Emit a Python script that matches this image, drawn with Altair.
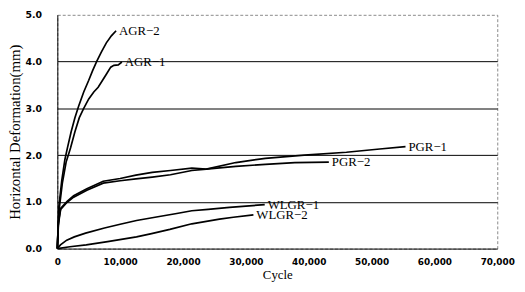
import altair as alt
import pandas as pd

# ---- data ----
agr2_x = [0, 100, 250, 700, 1200, 1600, 2200, 2800, 3400, 4200, 5000, 5600, 6250, 7000, 7800, 8600, 9350]
agr2_y = [0, 0.35, 0.9, 1.45, 1.9, 2.15, 2.5, 2.8, 3.05, 3.35, 3.6, 3.8, 4.0, 4.2, 4.4, 4.55, 4.66]

agr1_x = [0, 100, 300, 800, 1400, 2100, 2800, 3500, 4200, 5000, 5800, 6500, 7200, 7800, 8500, 9000, 9700, 10270]
agr1_y = [0, 0.3, 0.85, 1.4, 1.85, 2.15, 2.5, 2.8, 3.0, 3.2, 3.35, 3.45, 3.6, 3.73, 3.88, 3.92, 3.93, 3.99]

pgr1_x = [0, 150, 530, 1560, 2600, 4700, 7300, 10000, 12500, 15100, 18000, 21400, 23700, 28400, 33100, 39300, 46000, 51300, 55400]
pgr1_y = [0, 0.5, 0.84, 0.99, 1.1, 1.25, 1.4, 1.45, 1.49, 1.53, 1.58, 1.67, 1.7, 1.84, 1.93, 2.0, 2.06, 2.13, 2.18]

pgr2_x = [0, 150, 530, 1560, 2600, 4700, 7300, 10000, 12500, 15100, 18000, 21400, 23700, 28400, 33100, 37800, 43200]
pgr2_y = [0, 0.55, 0.86, 1.01, 1.13, 1.28, 1.44, 1.5, 1.57, 1.63, 1.67, 1.72, 1.7, 1.76, 1.8, 1.84, 1.85]

wlgr1_x = [0, 500, 1500, 2700, 4500, 7500, 10000, 12600, 16000, 19000, 21400, 24000, 27400, 30000, 33000]
wlgr1_y = [0, 0.08, 0.18, 0.25, 0.33, 0.44, 0.52, 0.6, 0.68, 0.75, 0.81, 0.84, 0.88, 0.91, 0.94]

wlgr2_x = [0, 2000, 4600, 8000, 12600, 15000, 17900, 21400, 25800, 28000, 31200]
wlgr2_y = [0, 0.04, 0.08, 0.15, 0.25, 0.32, 0.41, 0.53, 0.63, 0.67, 0.72]

series_names = ["AGR−2", "AGR−1", "PGR−1", "PGR−2", "WLGR−1", "WLGR−2"]
series_x = [agr2_x, agr1_x, pgr1_x, pgr2_x, wlgr1_x, wlgr2_x]
series_y = [agr2_y, agr1_y, pgr1_y, pgr2_y, wlgr1_y, wlgr2_y]

x_ticks = [0, 10000, 20000, 30000, 40000, 50000, 60000, 70000]
y_ticks = [0, 1, 2, 3, 4, 5]

rows = []
for name, xs, ys in zip(series_names, series_x, series_y):
    for i, (xv, yv) in enumerate(zip(xs, ys)):
        rows.append({"series": name, "cycle": xv, "def": yv, "order": i, "last": i == len(xs) - 1})
df = pd.DataFrame(rows)

serif = "Liberation Serif"

x_enc = alt.X("cycle:Q", scale=alt.Scale(domain=[0, 70000], nice=False),
              axis=alt.Axis(values=x_ticks, format=",.0f", title="Cycle", grid=False,
                            ticks=False, labelPadding=9, titlePadding=2,
                            labelFont="DejaVu Sans", labelFontWeight="bold", labelFontSize=9,
                            labelColor="black", titleFont=serif, titleFontSize=13,
                            titleFontWeight="normal", titleColor="black",
                            domainColor="black", labelFlush=False))
y_enc = alt.Y("def:Q", scale=alt.Scale(domain=[0, 5], nice=False),
              axis=alt.Axis(values=y_ticks, format=".1f", title="Horizontal Deformation(mm)",
                            grid=True,
                            gridColor={"condition": {"test": "datum.value === 5 || datum.value === 0", "value": "transparent"}, "value": "black"},
                            gridWidth=1, ticks=False, labelPadding=16, titlePadding=3,
                            labelFont="DejaVu Sans", labelFontWeight="bold", labelFontSize=9.5,
                            labelColor="black", titleFont=serif, titleFontSize=15,
                            titleFontWeight="normal", titleColor="black",
                            domainColor="black"))

base = alt.Chart(df)
lines = base.mark_line(color="black", strokeWidth=1.7).encode(
    detail="series:N", order="order:Q")
labels = base.transform_filter("datum.last").mark_text(
    align="left", baseline="middle", dx=3, font=serif, fontSize=13, color="black"
).encode(text="series:N")

chart = alt.layer(lines, labels).encode(x=x_enc, y=y_enc).properties(
    width=446, height=237,
    autosize=alt.AutoSizeParams(type="none"),
    padding={"left": 50, "top": 5, "right": 20, "bottom": 34},
).configure_view(stroke="#888", strokeWidth=1, strokeDash=[3, 2])

chart.save("out.html", embed_options={"renderer": "svg", "actions": False})
